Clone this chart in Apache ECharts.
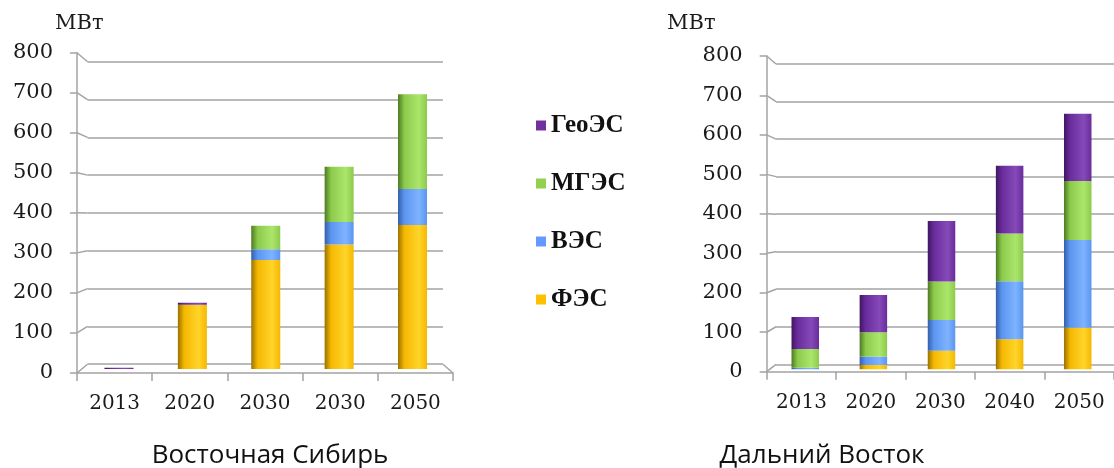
<!DOCTYPE html>
<html>
<head>
<meta charset="utf-8">
<script src="https://cdn.jsdelivr.net/npm/echarts@6/dist/echarts.min.js"></script>
<style>
  html, body { margin: 0; padding: 0; background: #ffffff; }
  #chart { width: 1114px; height: 468px; }
</style>
</head>
<body>
<div id="chart"></div>
<script>
// Installed capacity, MW — Eastern Siberia
const categoriesEast = ['2013', '2020', '2030', '2030', '2050'];
const solarEast = [0, 165, 280, 320, 370];
const windEast  = [0, 0, 28, 58, 93];
const hydroEast = [0, 0, 60, 142, 243];
const geoEast   = [3, 5, 0, 0, 0];

// Installed capacity, MW — Far East
const categoriesFarEast = ['2013', '2020', '2030', '2040', '2050'];
const solarFarEast = [0, 11, 48, 78, 108];
const windFarEast  = [4, 22, 80, 151, 228];
const hydroFarEast = [49, 63, 100, 124, 153];
const geoFarEast   = [83, 97, 157, 176, 175];

const seriesNames = ['ФЭС', 'ВЭС', 'МГЭС', 'ГеоЭС'];
const legendOrder = ['ГеоЭС', 'МГЭС', 'ВЭС', 'ФЭС'];
const panelTitles = ['Восточная Сибирь', 'Дальний Восток'];
const unitLabel = 'МВт';
const yMax = 800;
const yStep = 100;

// flat colours (legend) and cylinder shading (dark edge, body, highlight)
const palette = {
  'ФЭС':   { flat: '#ffc000', dark: '#9a7200', body: '#f5b800', light: '#ffd42a' },
  'ВЭС':   { flat: '#6699ff', dark: '#345fa8', body: '#5b95f0', light: '#7eb3ff' },
  'МГЭС':  { flat: '#92d050', dark: '#4c7a22', body: '#8cca4c', light: '#abe66a' },
  'ГеоЭС': { flat: '#7030a0', dark: '#3e1760', body: '#6a2c9c', light: '#8549b8' }
};

function cylinder(name) {
  const c = palette[name];
  return new echarts.graphic.LinearGradient(0, 0, 1, 0, [
    { offset: 0, color: c.dark },
    { offset: 0.22, color: c.body },
    { offset: 0.72, color: c.light },
    { offset: 1, color: c.body }
  ]);
}

// panel layout: front axis plane, back wall, and bar plane
const panels = [
  {
    cats: categoriesEast,
    values: { 'ФЭС': solarEast, 'ВЭС': windEast, 'МГЭС': hydroEast, 'ГеоЭС': geoEast },
    front: { left: 77, top: 52.7, width: 376, height: 320.3 },
    back:  { left: 87.5, top: 61.7, width: 355.5, height: 302.5 },
    bars:  { left: 82.3, top: 57.8, width: 366.9, height: 311.2 },
    barWidth: 29,
    unit: { left: 55, top: 13 },
    title: { x: 270, top: 443 },
    closeFloor: true
  },
  {
    cats: categoriesFarEast,
    values: { 'ФЭС': solarFarEast, 'ВЭС': windFarEast, 'МГЭС': hydroFarEast, 'ГеоЭС': geoFarEast },
    front: { left: 766.7, top: 56, width: 350, height: 315.7 },
    back:  { left: 776, top: 64, width: 345, height: 300.3 },
    bars:  { left: 771.2, top: 61.3, width: 340.6, height: 308 },
    barWidth: 27.5,
    unit: { left: 667, top: 13 },
    title: { x: 822, top: 443 },
    closeFloor: false
  }
];

const gridColor = '#a3a3a3';
const labelFont = 'DejaVu Serif';

const grids = [], xAxes = [], yAxes = [], series = [], titles = [];

panels.forEach((p, pi) => {
  const base = grids.length;
  p.gi = { front: base, back: base + 1, bars: base + 2 };
  grids.push(Object.assign({ containLabel: false }, p.front));
  grids.push(Object.assign({ containLabel: false }, p.back));
  grids.push(Object.assign({ containLabel: false }, p.bars));

  // front axes: labels and ticks
  xAxes.push({
    type: 'category', gridIndex: base, data: p.cats, boundaryGap: true,
    axisLine: { show: true, lineStyle: { color: gridColor, width: 1.5 } },
    axisTick: { show: true, length: 8, alignWithLabel: false, lineStyle: { color: gridColor, width: 1.5 } },
    axisLabel: { interval: 0, hideOverlap: false, margin: 21, fontFamily: labelFont, fontSize: 20, color: '#1a1a1a' },
    splitLine: { show: false }
  });
  yAxes.push({
    type: 'value', gridIndex: base, min: 0, max: yMax, interval: yStep,
    axisLine: { show: true, lineStyle: { color: gridColor, width: 1.5 } },
    axisTick: { show: true, length: 7, lineStyle: { color: gridColor, width: 1.5 } },
    axisLabel: { margin: 24, fontFamily: labelFont, fontSize: 21, color: '#1a1a1a' },
    splitLine: { show: false }
  });

  // back wall: gridlines only
  xAxes.push({ type: 'category', gridIndex: base + 1, data: p.cats, show: false });
  yAxes.push({
    type: 'value', gridIndex: base + 1, min: 0, max: yMax, interval: yStep,
    axisLine: { show: false }, axisTick: { show: false }, axisLabel: { show: false },
    splitLine: { show: true, lineStyle: { color: gridColor, width: 1.5 } }
  });

  // bar plane
  xAxes.push({ type: 'category', gridIndex: base + 2, data: p.cats, show: false });
  yAxes.push({ type: 'value', gridIndex: base + 2, min: 0, max: yMax, show: false, splitLine: { show: false } });

  seriesNames.forEach(name => {
    series.push({
      type: 'bar', name: name, stack: 'panel' + pi,
      xAxisIndex: base + 2, yAxisIndex: base + 2,
      barWidth: p.barWidth,
      data: p.values[name],
      itemStyle: { color: cylinder(name) },
      emphasis: { disabled: true },
      animation: false
    });
  });

  titles.push({
    text: unitLabel, left: p.unit.left, top: p.unit.top, padding: 0,
    textStyle: { fontFamily: labelFont, fontSize: 21, fontWeight: 'normal', color: '#1a1a1a' }
  });
  titles.push({
    text: panelTitles[pi], left: p.title.x, top: p.title.top, textAlign: 'center', padding: 0,
    textStyle: { fontFamily: 'Open Sans', fontSize: 26, fontWeight: 'normal', color: '#111111' }
  });
});

const option = {
  backgroundColor: '#ffffff',
  animation: false,
  title: titles,
  legend: {
    orient: 'vertical', left: 531, top: 108,
    itemWidth: 10, itemHeight: 10, itemGap: 33,
    icon: 'rect',
    textStyle: { fontFamily: 'Liberation Serif', fontWeight: 'bold', fontSize: 25, color: '#111111' },
    data: legendOrder.map(n => ({ name: n, itemStyle: { color: palette[n].flat } }))
  },
  grid: grids,
  xAxis: xAxes,
  yAxis: yAxes,
  series: series
};

const chart = echarts.init(document.getElementById('chart'), null, { renderer: 'canvas' });
chart.setOption(option);

// perspective connectors between the front axis and the back wall, plus floor edge
const connectors = [];
panels.forEach(p => {
  for (let v = 0; v <= yMax; v += yStep) {
    const yF = chart.convertToPixel({ yAxisIndex: p.gi.front }, v);
    const yB = chart.convertToPixel({ yAxisIndex: p.gi.back }, v);
    connectors.push({
      type: 'polyline', silent: true,
      shape: { points: [[p.front.left, yF], [p.back.left, yB]] },
      style: { stroke: gridColor, lineWidth: 1.5, fill: null }
    });
  }
  if (p.closeFloor) {
    const yF0 = chart.convertToPixel({ yAxisIndex: p.gi.front }, 0);
    const yB0 = chart.convertToPixel({ yAxisIndex: p.gi.back }, 0);
    connectors.push({
      type: 'polyline', silent: true,
      shape: { points: [[p.back.left + p.back.width, yB0], [p.front.left + p.front.width, yF0]] },
      style: { stroke: gridColor, lineWidth: 1.5, fill: null }
    });
  }
});
chart.setOption({ graphic: connectors });
</script>
</body>
</html>
